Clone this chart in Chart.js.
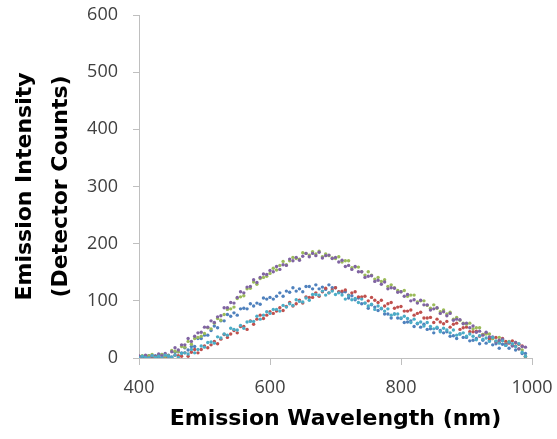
<!DOCTYPE html>
<html>
<head>
<meta charset="utf-8">
<script src="https://cdn.jsdelivr.net/npm/chart.js@4.4.0/dist/chart.umd.min.js"></script>
<style>
    html, body { margin: 0; padding: 0; background: #fff; }
    .chart-box { width: 557px; height: 439px; position: relative; }
</style>
</head>
<body>
<div class="chart-box"><canvas id="emissionChart"></canvas></div>
<script>
// Wavelength grid (nm)
const wavelengths = [
    400,405,410,415,420,425,430,435,440,445,450,455,460,465,470,475,480,485,490,495,
    500,505,510,515,520,525,530,535,540,545,550,555,560,565,570,575,580,585,590,595,
    600,605,610,615,620,625,630,635,640,645,650,655,660,665,670,675,680,685,690,695,
    700,705,710,715,720,725,730,735,740,745,750,755,760,765,770,775,780,785,790,795,
    800,805,810,815,820,825,830,835,840,845,850,855,860,865,870,875,880,885,890,895,
    900,905,910,915,920,925,930,935,940,945,950,955,960,965,970,975,980,985,990
];

// Detector counts per sample
const sample1 = [
    3,0,2,4,0,4,1,6,2,5,2,10,11,9,18,14,20,20,34,34,
    40,40,48,56,53,65,65,76,73,79,75,86,87,86,95,91,96,94,105,103,
    106,103,108,114,108,117,115,123,117,121,116,125,125,121,128,121,124,120,128,123,
    123,115,115,116,105,109,102,105,95,96,87,93,89,83,86,77,77,70,77,70,
    69,62,63,65,55,60,54,59,50,51,44,52,48,44,46,38,39,34,42,36,
    36,30,31,34,25,31,26,31,23,25,17,24,22,17,22,14,16,8,8
];
const sample2 = [
    3,0,1,3,0,2,5,0,1,3,0,5,4,3,9,3,10,15,9,15,
    21,18,23,29,25,33,41,36,42,48,44,55,55,50,65,59,68,75,69,75,
    81,78,82,88,83,90,97,91,95,101,96,107,106,106,114,108,116,122,114,119,
    123,116,117,119,110,114,116,107,107,108,100,106,101,97,101,91,95,97,87,89,
    90,82,82,84,75,78,80,70,70,71,62,68,63,60,64,54,59,61,50,53,
    54,46,46,47,38,41,43,34,34,36,27,34,29,26,30,21,24,21,2
];
const sample3 = [
    1,4,0,4,6,1,4,6,3,4,13,12,11,20,19,29,24,34,36,38,
    43,53,51,61,69,66,76,85,86,89,104,107,109,121,122,133,129,139,141,143,
    148,157,154,162,169,163,170,176,174,173,184,183,180,186,182,187,177,182,179,175,
    174,177,168,170,170,158,159,159,151,145,151,145,138,141,134,137,125,128,123,118,
    116,118,108,110,110,98,100,100,92,87,93,87,81,84,77,80,68,71,66,61,
    59,61,51,53,53,41,42,42,34,29,36,31,25,29,23,27,16,14,3
];
const sample4 = [
    3,0,5,0,4,0,7,4,8,3,11,18,14,23,23,34,29,38,44,45,
    54,54,65,62,72,74,88,88,97,96,106,116,114,124,125,137,132,141,147,146,
    153,151,160,155,163,162,173,170,176,171,178,183,177,183,179,185,175,179,180,174,
    176,168,171,160,162,155,160,151,151,141,143,144,134,136,129,133,121,123,122,115,
    116,108,111,100,102,96,101,93,93,84,86,88,78,81,74,78,66,68,67,60,
    61,53,56,45,47,40,45,37,37,28,31,33,24,27,21,27,16,20,19
];
const sample5 = [
    0,3,1,0,4,1,3,0,5,3,1,5,1,8,9,7,15,9,15,21,
    19,27,28,26,37,35,42,40,52,50,49,57,52,63,64,64,73,68,75,81,
    78,85,85,82,92,89,95,92,102,99,98,105,101,111,111,110,117,110,114,117,
    111,114,110,103,109,102,104,97,103,96,91,94,85,91,87,82,86,75,77,77,
    70,73,69,62,68,61,63,56,62,55,51,54,46,52,49,44,49,40,42,44,
    38,42,38,32,39,33,35,29,36,30,26,30,22,28,25,20,25,10,3
];

const seriesColors = ['#4F81BD', '#C0504D', '#9BBB59', '#8064A2', '#4BACC6'];
const xTicks = [400, 600, 800, 1000];
const yTicks = [0, 100, 200, 300, 400, 500, 600];

const axisColor = '#BFBFBF';
const tickFont = { family: '"Open Sans", sans-serif', size: 18 };
const titleFont = { family: '"DejaVu Sans", sans-serif', size: 22, weight: 'bold' };

function toPoints(values) {
    return wavelengths.map((w, i) => ({ x: w, y: values[i] }));
}

const datasets = [sample1, sample2, sample3, sample4, sample5].map((values, i) => ({
    label: 'Sample ' + (i + 1),
    data: toPoints(values),
    backgroundColor: seriesColors[i],
    borderWidth: 0,
    pointRadius: 1.7,
    pointHoverRadius: 1.7,
    // later series drawn on top, like the spreadsheet
    order: 5 - i
}));

new Chart(document.getElementById('emissionChart').getContext('2d'), {
    type: 'scatter',
    data: { datasets },
    options: {
        responsive: true,
        maintainAspectRatio: false,
        animation: false,
        events: [],
        layout: { padding: { top: 15, right: 25, left: 0, bottom: 0 } },
        plugins: {
            legend: { display: false },
            tooltip: { enabled: false }
        },
        scales: {
            x: {
                type: 'linear',
                min: 400,
                max: 1000,
                afterBuildTicks: scale => { scale.ticks = xTicks.map(v => ({ value: v })); },
                afterFit: scale => { scale.height = 81; },
                ticks: {
                    font: tickFont,
                    color: '#404040',
                    padding: 2,
                    maxRotation: 0,
                    callback: value => String(value)
                },
                // long tick slot pushes labels down, only the first 6px is inked
                grid: {
                    drawOnChartArea: false,
                    drawTicks: true,
                    tickLength: 17,
                    tickBorderDash: [6, 40],
                    color: axisColor
                },
                border: { color: axisColor, width: 1 },
                title: {
                    display: true,
                    text: 'Emission Wavelength (nm)',
                    font: titleFont,
                    color: '#000',
                    padding: { top: 0, bottom: 7 }
                }
            },
            y: {
                min: 0,
                max: 600,
                afterBuildTicks: scale => { scale.ticks = yTicks.map(v => ({ value: v })); },
                afterFit: scale => { scale.width = 139; },
                ticks: { font: tickFont, color: '#404040', padding: 3 },
                grid: {
                    drawOnChartArea: false,
                    drawTicks: true,
                    tickLength: 18,
                    tickBorderDash: [0, 12, 6],
                    color: axisColor
                },
                border: { color: axisColor, width: 1 },
                title: {
                    display: true,
                    text: ['Emission Intensity', '(Detector Counts)'],
                    font: { ...titleFont, lineHeight: 1.64 },
                    color: '#000',
                    padding: { top: 7, bottom: 0 }
                }
            }
        }
    }
});
</script>
</body>
</html>
